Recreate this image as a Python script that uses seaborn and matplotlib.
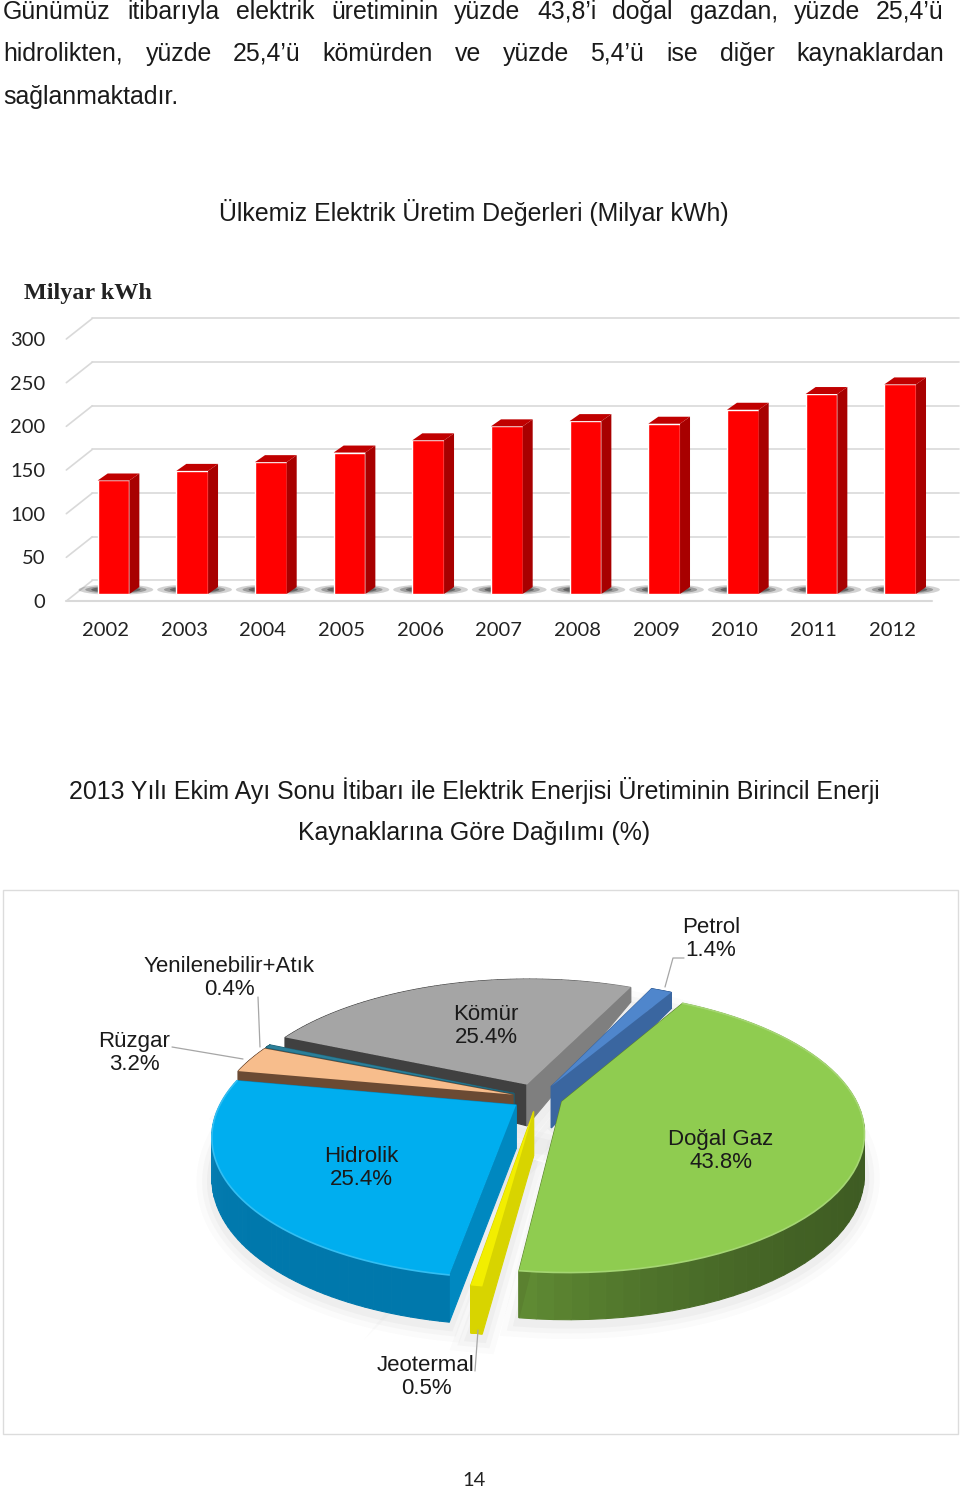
import numpy as np
import pandas as pd
import matplotlib
matplotlib.use("Agg")
import matplotlib.pyplot as plt
import matplotlib.colors as mcolors
from matplotlib.patches import Ellipse, Rectangle
from matplotlib.transforms import ScaledTranslation
import seaborn as sns

# Bar chart data
years = ["2002", "2003", "2004", "2005", "2006", "2007", "2008", "2009", "2010", "2011", "2012"]
production = [130, 141, 151, 162, 176, 192, 198, 195, 211, 229, 240]
y_ticks = [0, 50, 100, 150, 200, 250, 300]

# Pie chart data, clockwise starting from Petrol
sources = ["Petrol", "Doğal Gaz", "Jeotermal", "Hidrolik", "Rüzgar", "Yenilenebilir+Atık", "Kömür"]
shares = [1.4, 43.8, 0.5, 25.4, 3.2, 0.4, 25.4]
explode = [0.10, 0.085, 0.10, 0.09, 0.09, 0.09, 0.11]

# top, arc side (start, end), radial side (start edge, end edge)
pie_colors = {
    "Petrol": ("#4f86cc", "#3a66a0", "#3a66a0", "#3a66a0", "#3a66a0"),
    "Doğal Gaz": ("#8fcc50", "#3d5a22", "#5f8a33", "#5b8130", "#5b8130"),
    "Jeotermal": ("#f2ee00", "#d8d400", "#d8d400", "#d8d400", "#d8d400"),
    "Hidrolik": ("#00aeef", "#0078ac", "#1a90c4", "#0088c0", "#0088c0"),
    "Rüzgar": ("#f7bd8c", "#6b4a33", "#6b4a33", "#6b4a33", "#6b4a33"),
    "Yenilenebilir+Atık": ("#2b7f99", "#1f5f72", "#1f5f72", "#1f5f72", "#1f5f72"),
    "Kömür": ("#a5a5a5", "#404040", "#7f7f7f", "#404040", "#7f7f7f"),
}

# Text above the charts
para_lines = [
    (["Günümüz", "itibarıyla", "elektrik", "üretiminin", "yüzde", "43,8’i", "doğal", "gazdan,", "yüzde", "25,4’ü"],
     [3, 127, 236, 331, 454, 537, 612, 690, 794, 876], 12),
    (["hidrolikten,", "yüzde", "25,4’ü", "kömürden", "ve", "yüzde", "5,4’ü", "ise", "diğer", "kaynaklardan"],
     [3, 146, 233, 322, 455, 503, 590, 666, 720, 796], 54),
    (["sağlanmaktadır."], [3], 97),
]

sns.set_style("white")
TEXT_FONT = "Liberation Sans"
CHART_FONT = "Lato"

fig = plt.figure(figsize=(9.6, 14.9), dpi=100)

# Full page axes in pixels, for text and the pie
page = fig.add_axes([0, 0, 1, 1], zorder=0)
page.set_xlim(0, 960)
page.set_ylim(1490, 0)
page.axis("off")

for words, xs, y in para_lines:
    for word, x in zip(words, xs):
        page.text(x, y, word, fontsize=17.95, family=TEXT_FONT, va="center", color="#1a1a1a")

page.text(474, 212, "Ülkemiz Elektrik Üretim Değerleri (Milyar kWh)", fontsize=17.95,
          family=TEXT_FONT, ha="center", va="center", color="#1a1a1a")
page.text(474, 790, "2013 Yılı Ekim Ayı Sonu İtibarı ile Elektrik Enerjisi Üretiminin Birincil Enerji",
          fontsize=17.95, family=TEXT_FONT, ha="center", va="center", color="#1a1a1a")
page.text(474, 833, "Kaynaklarına Göre Dağılımı (%)", fontsize=17.95,
          family=TEXT_FONT, ha="center", va="center", color="#1a1a1a")
page.text(474, 1480, "14", fontsize=14.5, family=CHART_FONT, ha="center", va="center", color="#222222")
page.text(24, 294, "Milyar kWh", fontsize=17.4, family="Liberation Serif", weight="bold",
          va="center", color="#222222")

# ---------- Bar chart ----------
bar_left, bar_right, bar_bottom, bar_top = 74.2, 939.5, 601, 339
ax = fig.add_axes([bar_left / 960, (1490 - bar_bottom) / 1490,
                   (bar_right - bar_left) / 960, (bar_bottom - bar_top) / 1490], zorder=1)
ax.patch.set_alpha(0)

df = pd.DataFrame({"Yil": years, "Uretim": production})
sns.barplot(data=df, x="Yil", y="Uretim", color="#ff0000", saturation=1, width=0.403, ax=ax, zorder=3)
ax.set_xlim(-0.5, 10.5)
ax.set_ylim(0, 300)
ax.set_xlabel("")
ax.set_ylabel("")
ax.set_yticks(y_ticks)
sns.despine(ax=ax, left=True, bottom=True)
ax.tick_params(axis="x", length=0, pad=15, labelsize=14.5, labelcolor="#222222")
ax.tick_params(axis="y", length=0, pad=21, labelsize=14.5, labelcolor="#222222")
for lab in ax.get_xticklabels() + ax.get_yticklabels():
    lab.set_family(CHART_FONT)
for lab in ax.get_xticklabels():
    lab.set_transform(lab.get_transform() + ScaledTranslation(-0.08, 0, fig.dpi_scale_trans))

# Depth of the floor and of each bar, in axis units
wall_dx, wall_dy = 0.33, 23.5
bar_dx, bar_dy = 0.127, 8
floor = 8

# Back wall lines, floor line and the short diagonals
for v in y_ticks:
    ax.plot([-0.27, 10.75], [v + wall_dy, v + wall_dy], color="#d9d9d9", lw=1.2, clip_on=False, zorder=1)
    ax.plot([-0.60, -0.27], [v, v + wall_dy], color="#d9d9d9", lw=1.2, clip_on=False, zorder=1)
ax.plot([-0.60, 10.40], [0, 0], color="#d9d9d9", lw=1.5, clip_on=False, zorder=1)

# Floor shadow and the two visible bar faces
for bar in ax.patches:
    bar.set_y(floor)
    x0 = bar.get_x()
    x1 = x0 + bar.get_width()
    top = floor + bar.get_height()
    for grow, thick, alpha in [(1.0, 12, 0.2), (0.82, 9, 0.3), (0.66, 7, 0.45)]:
        ax.add_patch(Ellipse(((x0 + x1) / 2 + 0.03, floor + 5), 0.95 * grow, thick, color="#202020",
                             alpha=alpha, lw=0, zorder=2, clip_on=False))
    ax.fill([x1, x1 + bar_dx, x1 + bar_dx, x1], [floor, floor + bar_dy, top + bar_dy, top],
            color="#a80000", lw=0, zorder=3, clip_on=False)
    ax.fill([x0, x0 + bar_dx, x1 + bar_dx, x1], [top, top + bar_dy, top + bar_dy, top],
            color="#c00000", lw=0, zorder=3, clip_on=False)

# ---------- Pie chart ----------
page.add_patch(Rectangle((3, 890), 955, 544, fill=False, edgecolor="#dcdcdc", lw=1.0))

# Slice angles and offsets come from pie on a hidden axes
helper = fig.add_axes([0, 0, 0.1, 0.1])
wedges, _ = helper.pie(shares, explode=explode, startangle=65, counterclock=False)
helper.set_visible(False)

XC, YC, A, B, K = 538, 1098, 293, 133, 0.2115


def project(u, v):
    # circle seen in perspective, far side is smaller
    w = 1 + K * v
    return XC + A * u / w, YC - B * v / w


def thickness(u, v):
    # thicker towards the viewer and near the middle
    return 36 - 16 * v - 5 * v ** 2 + 7 * (1 - np.minimum(u ** 2 + v ** 2, 1))


def blend(c1, c2, t):
    a = np.array(mcolors.to_rgb(c1))
    b = np.array(mcolors.to_rgb(c2))
    return tuple(a + (b - a) * t)


slices = []
for name, wedge in zip(sources, wedges):
    cu, cv = wedge.center
    # clockwise from theta2 to theta1
    phi = np.radians(np.linspace(wedge.theta2, wedge.theta1, 60))
    u = np.concatenate([[cu], cu + np.cos(phi), [cu]])
    v = np.concatenate([[cv], cv + np.sin(phi), [cv]])
    px, py = project(u, v)
    slices.append((name, px, py, py + thickness(u, v)))

# soft shadow below the pie
for lw, alpha in [(22, 0.025), (14, 0.03), (7, 0.04)]:
    for name, px, py, low in slices:
        page.fill(px, low + 4, facecolor="none", edgecolor="#555555", lw=lw, alpha=alpha, zorder=1)

# back slices first, front ones last
draw_order = ["Kömür", "Petrol", "Yenilenebilir+Atık", "Rüzgar", "Hidrolik", "Doğal Gaz", "Jeotermal"]
for wanted in draw_order:
    for name, px, py, low in slices:
        if name != wanted:
            continue
        top_c, arc_a, arc_b, rad_start, rad_end = pie_colors[name]
        n = len(px) - 1
        for i in range(n):
            if i == 0:
                c = rad_start
            elif i == n - 1:
                c = rad_end
            else:
                # stays on the first colour for most of the arc
                c = blend(arc_a, arc_b, ((i - 1) / max(n - 3, 1)) ** 5)
            page.fill([px[i], px[i + 1], px[i + 1], px[i]], [py[i], py[i + 1], low[i + 1], low[i]],
                      color=c, lw=0.8, zorder=2)
        page.fill(px, py, color=top_c, lw=0, zorder=2)
        if name in ("Hidrolik", "Doğal Gaz"):
            light = blend(top_c, "#ffffff", 0.2)
            page.plot(px[1:-1], py[1:-1], color=light, lw=1.2, zorder=2)

# Leader lines
leader_lines = [
    ([665, 673, 684], [987, 958, 958]),
    ([260, 258], [1047, 997]),
    ([243, 172], [1059, 1047]),
    ([478, 475], [1330, 1371]),
]
for lx, ly in leader_lines:
    page.plot(lx, ly, color="#a6a6a6", lw=0.9, zorder=3)

# Slice labels
pie_labels = ["Petrol\n1.4%", "Doğal Gaz\n43.8%", "Jeotermal\n0.5%", "Hidrolik\n25.4%",
              "Rüzgar\n3.2%", "Yenilenebilir+Atık\n0.4%", "Kömür\n25.4%"]
label_x = [711, 721, 426, 361, 134, 229, 486]
label_y = [939, 1151, 1377, 1168, 1053, 978, 1026]
for text, x, y in zip(pie_labels, label_x, label_y):
    page.text(x, y, text, fontsize=16, family=TEXT_FONT, ha="center", va="center",
              linespacing=1.13, color="#1a1a1a", zorder=4)

plt.savefig("out.png", dpi=100)
